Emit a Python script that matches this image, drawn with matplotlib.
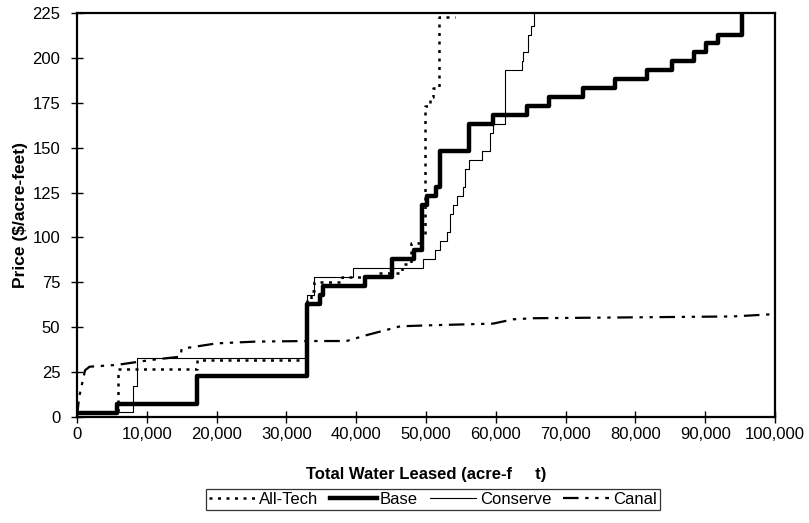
import matplotlib
matplotlib.use("Agg")
import matplotlib.pyplot as plt
from matplotlib.ticker import FuncFormatter, MultipleLocator

plt.rcParams["font.family"] = ["Liberation Sans", "DejaVu Sans"]

# ── data (x = acre-feet, y = $/acre-foot) ────────────────────────────────────
alltech_x = [0, 5900, 17150, 33000, 33500, 34000, 38000, 43000, 46500, 47800,
             49000, 49860, 50570, 51000, 51900, 54200]
alltech_y = [2, 27, 32, 65, 70, 75, 78, 80, 85, 97,
             100, 173, 178, 183, 223, 223]

base_x = [0, 5700, 17150, 33000, 34800, 35300, 41300, 45100, 48300, 49400,
          50100, 51400, 52000, 56100, 59650, 64400, 67600, 72500, 77100,
          81700, 85300, 88400, 90100, 91800, 95200]
base_y = [2, 7.5, 23, 63, 68, 73, 78, 88, 93, 118,
          123, 128, 148, 163, 168, 173, 178, 183, 188,
          193, 198, 203, 208, 213, 225]

conserve_x = [0, 8070, 8650, 33000, 34000, 39600, 49600, 51300, 52000, 53000,
              53400, 53900, 54400, 55300, 55600, 56200, 58000, 59200, 59650,
              61300, 63700, 63950, 64660, 65000, 65400]
conserve_y = [2.5, 17.5, 33, 68, 78, 83, 88, 93, 98, 103,
              113, 118, 123, 128, 138, 143, 148, 158, 163,
              193, 198, 203, 213, 218, 225]

canal_x = [0, 300, 1150, 1800, 5700, 10500, 14800, 15000, 20000, 25700,
           33000, 38600, 41500, 46300, 50000, 59600, 62500, 65400, 80000,
           94000, 100000]
canal_y = [0, 11, 26, 28, 29, 31.7, 33.6, 38, 41, 42,
           42.3, 42.3, 45.6, 50.5, 51, 52, 54.4, 55, 55.5,
           56, 57.3]

# ─────────────────────────────────────────────────────────────────────────────
fig = plt.figure(figsize=(8.09, 5.23), dpi=100)
ax = fig.add_axes([0.0952, 0.2027, 0.8628, 0.7725])

ax.step(alltech_x, alltech_y, where="post", color="black", lw=1.8,
        ls=(0, (1.2, 2.2)), label="All-Tech")
ax.step(base_x, base_y, where="post", color="black", lw=3.2, label="Base")
ax.step(conserve_x, conserve_y, where="post", color="black", lw=0.8,
        label="Conserve")
ax.plot(canal_x, canal_y, color="black", lw=1.6,
        ls=(0, (7, 3, 1.5, 3, 1.5, 3)), label="Canal")

ax.set_xlim(0, 100000)
ax.set_ylim(0, 225)
ax.xaxis.set_major_locator(MultipleLocator(10000))
ax.yaxis.set_major_locator(MultipleLocator(25))
ax.xaxis.set_major_formatter(FuncFormatter(lambda v, p: f"{int(v):,}"))

for s in ax.spines.values():
    s.set_linewidth(1.6)
ax.tick_params(direction="inout", length=8, width=1, labelsize=12)
ax.tick_params(axis="x", pad=3)
ax.tick_params(axis="y", pad=8)

ax.set_ylabel("Price ($/acre-feet)", fontsize=12.5, fontweight="bold",
              labelpad=3)
ax.set_xlabel("Total Water Leased (acre-f     t)", fontsize=12,
              fontweight="bold", labelpad=18)

leg = fig.legend(loc="center", bbox_to_anchor=(0.535, 0.045), ncol=4,
                 fontsize=12, frameon=True, fancybox=False, handlelength=2.8,
                 handletextpad=0.2, columnspacing=0.7, borderpad=0.2,
                 borderaxespad=0)
leg.get_frame().set_edgecolor("black")
leg.get_frame().set_linewidth(0.9)

fig.savefig("out.png", dpi=100)
